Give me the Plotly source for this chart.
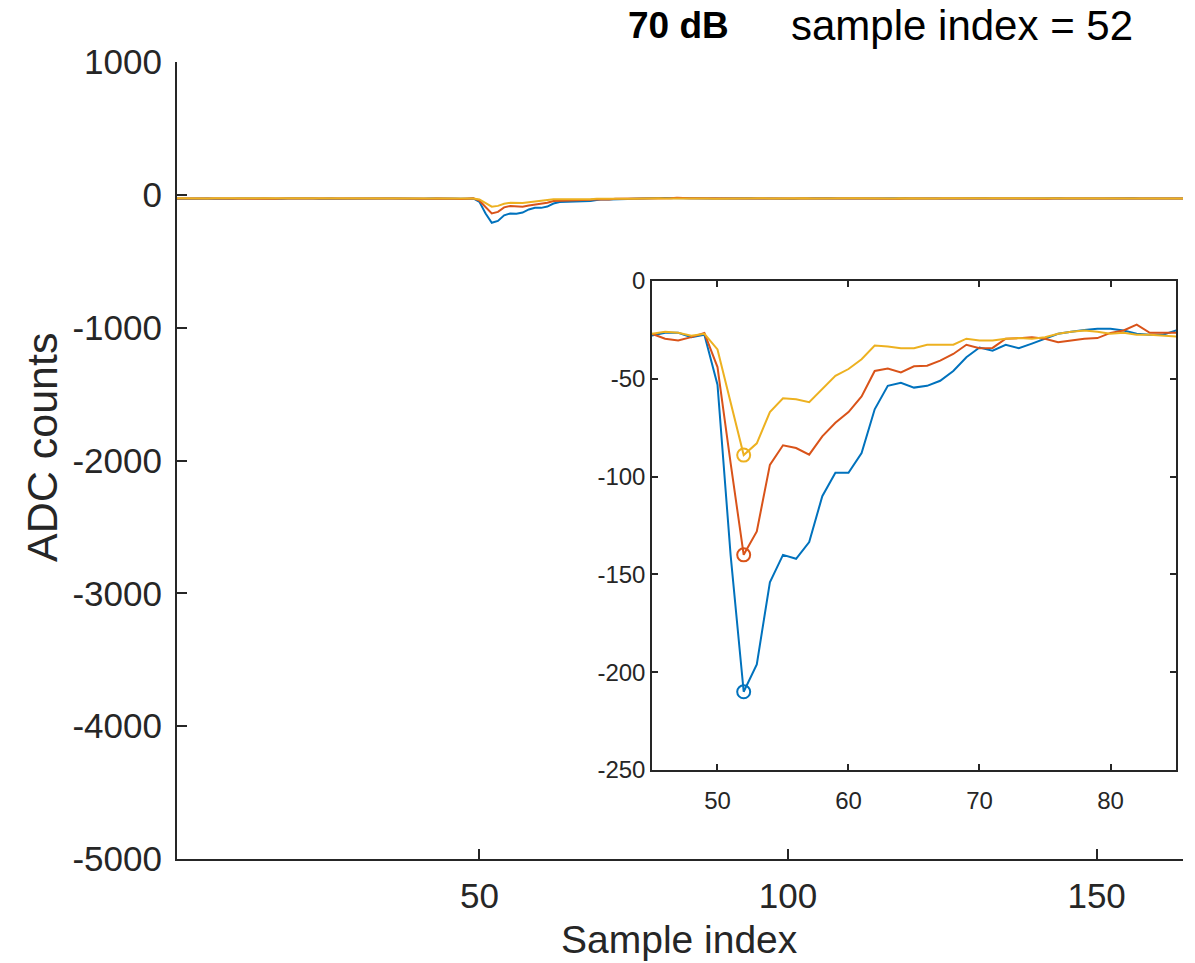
import plotly.graph_objects as go

# ---- data -------------------------------------------------------------
peak_index = 52
level_label = "70 dB"

sample = list(range(1, 165))

# quiet baseline before the pulse (samples 1..44)
blue_pre = [-29, -28, -30, -29, -28, -27, -29, -30, -28, -29, -27,
            -28, -29, -30, -28, -27, -28, -29, -28, -27, -28, -27,
            -28, -29, -27, -28, -30, -29, -28, -27, -28, -27, -29,
            -28, -27, -28, -29, -28, -27, -28, -29, -27, -28, -27]
red_pre = [-28, -29, -28, -30, -29, -28, -27, -28, -29, -30, -28,
           -27, -28, -29, -28, -30, -29, -28, -27, -28, -29, -28,
           -27, -28, -29, -28, -27, -29, -28, -27, -28, -29, -28,
           -29, -28, -27, -28, -29, -28, -27, -29, -30, -28, -27]
yellow_pre = [-26, -27, -26, -27, -26, -27, -26, -26, -27, -26, -27,
              -26, -27, -26, -26, -27, -26, -27, -26, -26, -27, -26,
              -27, -26, -26, -27, -26, -27, -26, -26, -27, -26, -27,
              -26, -27, -26, -26, -27, -26, -27, -26, -26, -27, -27]

# pulse region (samples 45..85)
blue_pulse = [-27.8, -26.5, -26.5, -28.7, -27.5, -53, -140, -210, -196, -154,
              -140, -142, -133.5, -110, -98, -98, -88, -65.6, -53.6, -52,
              -54.5, -53.6, -51, -46, -39, -34, -35.6, -32.6, -34.4, -32,
              -29.5, -27, -26, -25, -24.4, -24.4, -25.3, -27, -27.5, -27.5,
              -25.3]
red_pulse = [-27, -29.5, -30.4, -28.7, -26.6, -44, -93, -140, -128, -94,
             -84, -85.4, -88.8, -79.4, -72.5, -67, -59, -46, -44.7, -46.7,
             -43.6, -43.3, -40.7, -37.3, -32.6, -34.4, -34.2, -29.5, -29.2, -28.7,
             -29.5, -31.3, -30.4, -29.5, -29.2, -26.5, -25.3, -22.3, -26.5, -26.5,
             -26.5]
yellow_pulse = [-27, -26, -26.5, -28, -27, -35, -62, -89, -83, -67,
                -60, -60.5, -62, -55, -48.5, -45, -40, -33, -33.5, -34.4,
                -34.4, -32.6, -32.6, -32.6, -29.5, -30.4, -30.4, -29.5, -29.2, -29.5,
                -28.7, -27, -26, -25.3, -26, -27, -26.5, -27.5, -27.5, -28,
                -28.4]

# quiet baseline after the pulse (samples 86..164)
blue_post = [-26, -27, -28, -27, -26, -27, -28, -27, -26, -27,
             -28, -27, -26, -27, -28, -29, -27, -26, -27, -28,
             -27, -26, -27, -28, -27, -26, -27, -28, -27, -26,
             -27, -28, -27, -26, -27, -28, -29, -27, -26, -27,
             -28, -27, -26, -27, -28, -27, -26, -27, -28, -27,
             -26, -27, -28, -27, -26, -27, -28, -27, -26, -27,
             -28, -27, -26, -27, -28, -27, -26, -27, -28, -27,
             -26, -27, -28, -27, -26, -27, -28, -27, -27]
red_post = [-27, -28, -30, -31, -29, -28, -27, -28, -27, -28,
            -29, -28, -27, -28, -27, -28, -29, -28, -27, -28,
            -27, -28, -27, -28, -29, -28, -27, -28, -27, -28,
            -27, -28, -29, -28, -27, -28, -27, -28, -27, -28,
            -29, -28, -27, -28, -27, -28, -27, -28, -29, -28,
            -27, -28, -27, -28, -27, -28, -29, -28, -27, -28,
            -27, -28, -27, -28, -27, -28, -27, -29, -28, -27,
            -28, -27, -28, -27, -28, -27, -28, -30, -27]
yellow_post = [-28, -27, -29, -28, -27, -26, -27, -26, -27, -26,
               -26, -27, -26, -27, -26, -26, -27, -26, -27, -26,
               -26, -27, -26, -27, -26, -26, -27, -26, -27, -26,
               -26, -27, -26, -27, -26, -26, -27, -26, -27, -26,
               -26, -27, -26, -27, -26, -26, -27, -26, -27, -26,
               -26, -27, -26, -27, -26, -26, -27, -26, -27, -26,
               -26, -27, -26, -27, -26, -26, -27, -26, -27, -26,
               -26, -27, -26, -27, -26, -26, -27, -26, -27]

blue = blue_pre + blue_pulse + blue_post
red = red_pre + red_pulse + red_post
yellow = yellow_pre + yellow_pulse + yellow_post

# axis ticks
main_xticks = [50, 100, 150]
main_yticks = [1000, 0, -1000, -2000, -3000, -4000, -5000]
inset_xticks = [50, 60, 70, 80]
inset_yticks = [0, -50, -100, -150, -200, -250]

# ---- styling ------------------------------------------------------------
FONT = "Liberation Sans, Arial, Helvetica, sans-serif"
AX = "#262626"
colors = ["#0072BD", "#D95319", "#EDB120"]
series = [blue, red, yellow]

fig = go.Figure()

# full trace on the main axes
for vals, c in zip(series, colors):
    fig.add_trace(go.Scatter(x=sample, y=vals, mode="lines",
                             line=dict(color=c, width=2),
                             xaxis="x", yaxis="y",
                             showlegend=False, hoverinfo="skip"))

# zoomed view on the inset axes
for vals, c in zip(series, colors):
    fig.add_trace(go.Scatter(x=sample, y=vals, mode="lines",
                             line=dict(color=c, width=2),
                             xaxis="x2", yaxis="y2",
                             showlegend=False, hoverinfo="skip"))

# circle at the selected sample index
for vals, c in zip(series, colors):
    fig.add_trace(go.Scatter(x=[peak_index], y=[vals[peak_index - 1]],
                             mode="markers",
                             marker=dict(symbol="circle-open", size=13,
                                         color=c, line=dict(width=2, color=c)),
                             xaxis="x2", yaxis="y2",
                             showlegend=False, hoverinfo="skip"))


def lbl(vals):
    return [str(v) for v in vals]


common = dict(showgrid=False, zeroline=False, showline=True, linecolor=AX,
              ticks="inside", tickcolor=AX)


def note(text, x, y, size, color, angle=0):
    return dict(text=text, x=x, y=y, xref="paper", yref="paper",
                xanchor="center", yanchor="middle", showarrow=False,
                textangle=angle, font=dict(size=size, family=FONT, color=color))


fig.update_layout(
    width=1195, height=963,
    margin=dict(l=0, r=0, t=0, b=0, autoexpand=False),
    paper_bgcolor="white", plot_bgcolor="white",
    font=dict(family=FONT, color=AX),
    xaxis=dict(domain=[0.1481, 0.9900], range=[1, 164], anchor="y",
               tickvals=main_xticks, ticktext=lbl(main_xticks),
               ticklen=10, tickwidth=2, linewidth=2, ticklabelstandoff=5,
               tickfont=dict(size=35, family=FONT, color=AX), **common),
    yaxis=dict(domain=[0.1080, 0.9356], range=[-5000, 1000], anchor="x",
               tickvals=main_yticks, ticktext=lbl(main_yticks),
               ticklen=10, tickwidth=2, linewidth=2, ticklabelstandoff=6,
               tickfont=dict(size=35, family=FONT, color=AX), **common),
    xaxis2=dict(domain=[0.5456, 0.9841], range=[45, 85], anchor="y2",
                tickvals=inset_xticks, ticktext=lbl(inset_xticks),
                ticklen=6, tickwidth=1.5, linewidth=1.5, mirror="allticks",
                ticklabelstandoff=8,
                tickfont=dict(size=24, family=FONT, color=AX), **common),
    yaxis2=dict(domain=[0.2004, 0.7082], range=[-250, 0], anchor="x2",
                tickvals=inset_yticks, ticktext=lbl(inset_yticks),
                ticklen=6, tickwidth=1.5, linewidth=1.5, mirror="allticks",
                tickfont=dict(size=24, family=FONT, color=AX), **common),
    annotations=[
        note(f"<b>{level_label}</b>", 0.5674, 0.974, 37, "black"),
        note(f"sample index = {peak_index}", 0.805, 0.974, 42, "black"),
        note("ADC counts", 0.0351, 0.5358, 43, AX, angle=-90),
        note("Sample index", 0.569, 0.0239, 39, AX),
    ],
)

fig.write_html("out.html")
